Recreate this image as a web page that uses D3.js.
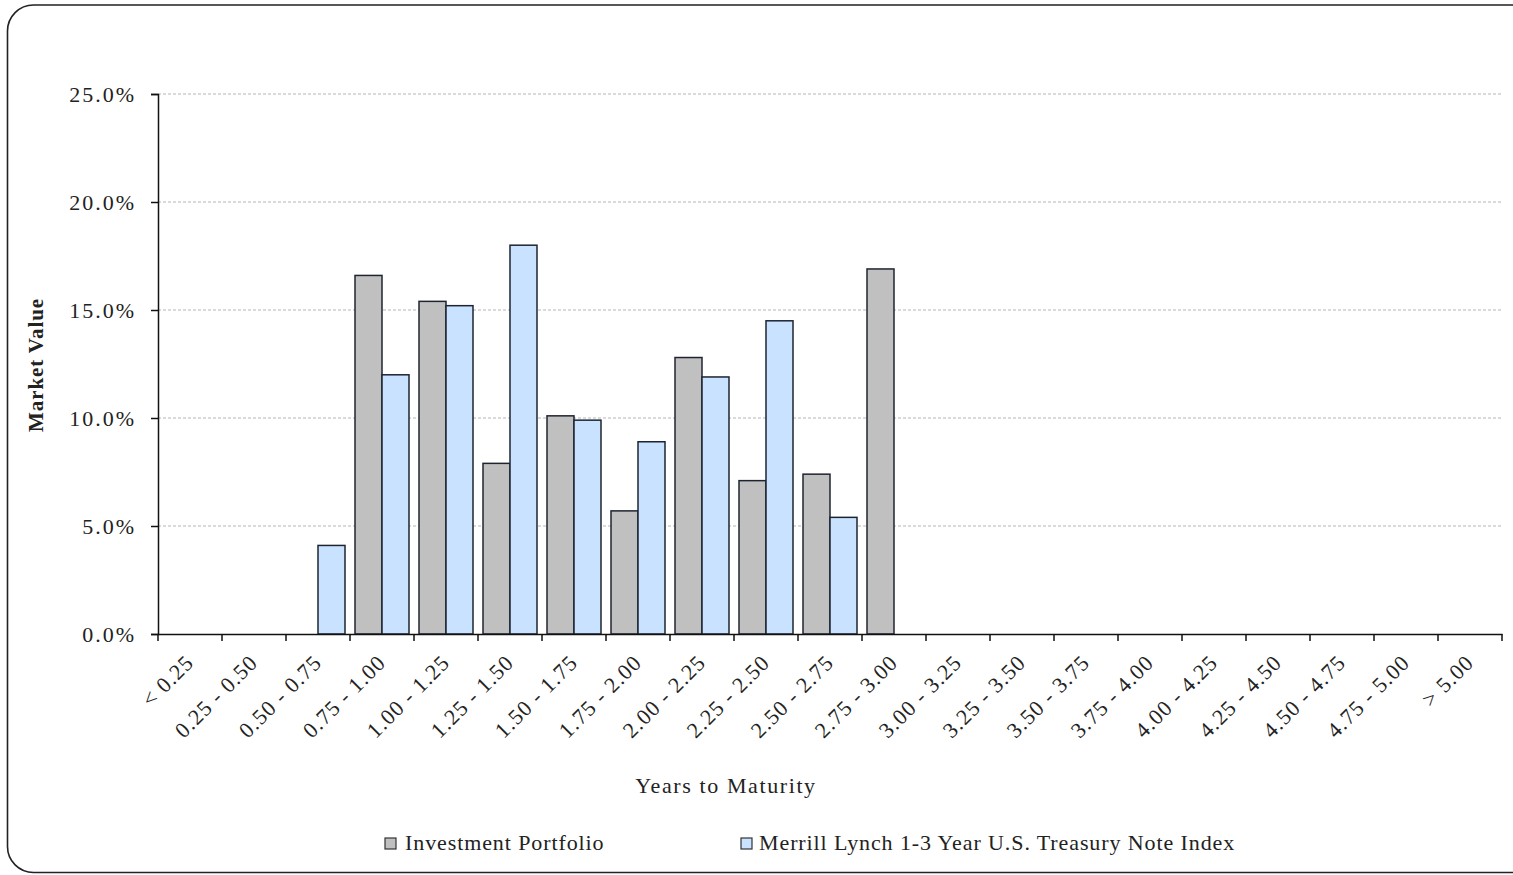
<!DOCTYPE html>
<html><head><meta charset="utf-8">
<script src="https://cdn.jsdelivr.net/npm/d3@7/dist/d3.min.js"></script>
<style>
html,body{margin:0;padding:0;background:#fff;}
</style></head>
<body>
<svg id="chart" width="1513" height="875" font-family="'Liberation Serif', Tinos, 'DejaVu Serif', serif"></svg>
<script>
const categories = ["< 0.25","0.25 - 0.50","0.50 - 0.75","0.75 - 1.00","1.00 - 1.25","1.25 - 1.50","1.50 - 1.75","1.75 - 2.00","2.00 - 2.25","2.25 - 2.50","2.50 - 2.75","2.75 - 3.00","3.00 - 3.25","3.25 - 3.50","3.50 - 3.75","3.75 - 4.00","4.00 - 4.25","4.25 - 4.50","4.50 - 4.75","4.75 - 5.00","> 5.00"];
const portfolio = [0,0,0,16.6,15.4,7.9,10.1,5.7,12.8,7.1,7.4,16.9,0,0,0,0,0,0,0,0,0];
const benchmark = [0,0,4.1,12.0,15.2,18.0,9.9,8.9,11.9,14.5,5.4,0,0,0,0,0,0,0,0,0,0];
const seriesNames = ["Investment Portfolio","Merrill Lynch 1-3 Year U.S. Treasury Note Index"];
const seriesColors = ["#c0c0c0","#c8e2ff"];
const yTicks = [0,5,10,15,20,25];

(function(){
const FONT = "'Liberation Serif', Tinos, 'DejaVu Serif', serif";
const svg = d3.select("#chart");
svg.append("rect").attr("x",7.5).attr("y",5).attr("width",1530).attr("height",867.5)
  .attr("rx",26).attr("fill","none").attr("stroke","#222").attr("stroke-width",1.6);

const pL=158, pR=1502, pT=94, pB=634;
const x = d3.scaleBand().domain(categories).range([pL,pR]).paddingInner(0).paddingOuter(0);
const y = d3.scaleLinear().domain([0,25]).range([pB,pT]);

svg.append("g").selectAll("line").data(yTicks.filter(d=>d>0)).join("line")
  .attr("x1",pL).attr("x2",pR).attr("y1",d=>y(d)).attr("y2",d=>y(d))
  .attr("stroke","#b5b5b5").attr("stroke-width",1).attr("stroke-dasharray","3,2");

const pad = 5, bw = (x.bandwidth()-2*pad)/2;
const data = [];
categories.forEach((c,i)=>{
  [portfolio[i],benchmark[i]].forEach((v,s)=>{ if(v>0) data.push({c,v,s}); });
});
svg.append("g").selectAll("rect").data(data).join("rect")
  .attr("x",d=>x(d.c)+pad+d.s*bw).attr("width",bw)
  .attr("y",d=>y(d.v)).attr("height",d=>y(0)-y(d.v))
  .attr("fill",d=>seriesColors[d.s]).attr("stroke","#1e2430").attr("stroke-width",1.5);

const yAxis = d3.axisLeft(y).tickValues(yTicks).tickSize(7).tickFormat(d=>d.toFixed(1)+"%");
const gy = svg.append("g").attr("transform",`translate(${pL},0)`).call(yAxis);
gy.attr("font-family",FONT).attr("font-size",22);
gy.select(".domain").attr("stroke","#111").attr("stroke-width",1.5);
gy.selectAll(".tick line").attr("stroke","#111").attr("stroke-width",1.5);
gy.selectAll(".tick text").attr("x",-22).attr("dy","0.35em").style("letter-spacing","2px").attr("fill","#222");

const xAxis = d3.axisBottom(x).tickSize(0).tickFormat("");
const gx = svg.append("g").attr("transform",`translate(0,${pB})`).call(xAxis);
gx.select(".domain").attr("stroke","#111").attr("stroke-width",1.5);
const bounds = categories.map(c=>x(c)).concat([pR]);
gx.selectAll("line.bt").data(bounds).join("line").attr("class","bt")
  .attr("x1",d=>d).attr("x2",d=>d).attr("y1",0).attr("y2",7).attr("stroke","#111").attr("stroke-width",1.5);
svg.append("g").attr("font-family",FONT).selectAll("text").data(categories).join("text")
  .attr("transform",d=>`translate(${x(d)+x.bandwidth()/2+5},${pB+30}) rotate(-45)`)
  .attr("text-anchor","end").attr("font-size",22).attr("fill","#222").style("letter-spacing","1px").text(d=>d);

svg.append("text").attr("x",726).attr("y",793).attr("text-anchor","middle").attr("font-family",FONT)
  .attr("font-size",22).attr("fill","#222").style("letter-spacing","1.6px").text("Years to Maturity");
svg.append("text").attr("transform","translate(43,365) rotate(-90)").attr("text-anchor","middle").attr("font-family",FONT)
  .attr("font-size",21).attr("font-weight","bold").attr("fill","#222").style("letter-spacing","0.9px").text("Market Value");

const legX = [385,741];
const lg = svg.append("g").attr("font-family",FONT);
seriesNames.forEach((n,i)=>{
  lg.append("rect").attr("x",legX[i]).attr("y",838).attr("width",11).attr("height",11)
    .attr("fill",seriesColors[i]).attr("stroke","#333").attr("stroke-width",1.2);
  lg.append("text").attr("x",legX[i]+(i===0?20:18)).attr("y",850).attr("font-size",22).attr("fill","#222")
    .style("letter-spacing","0.9px").text(n);
});
})();
</script>
</body></html>
